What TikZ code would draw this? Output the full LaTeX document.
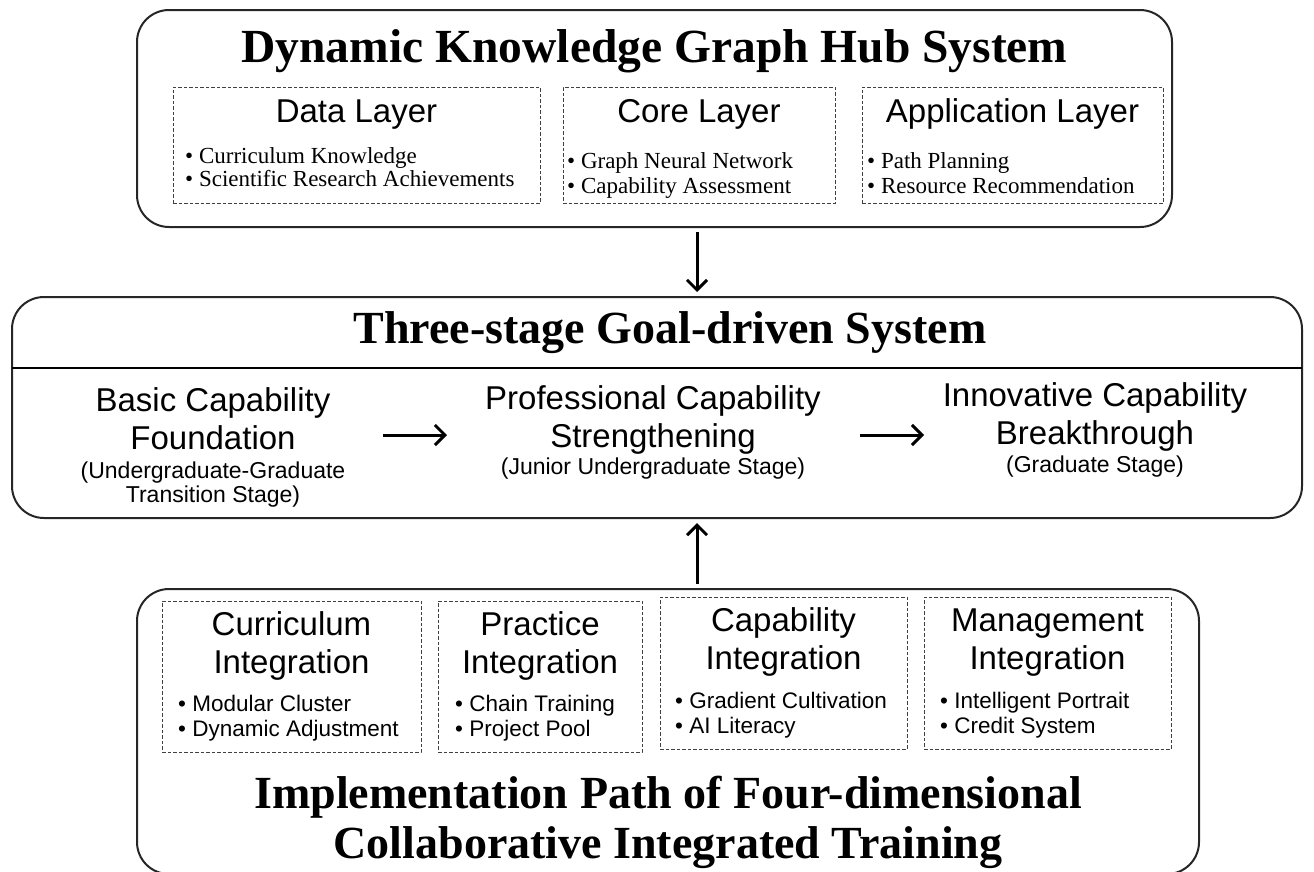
\documentclass[tikz,border=0pt]{standalone}
\usepackage{fontspec}
\setmainfont{Liberation Serif}
\setsansfont{Liberation Sans}
\usetikzlibrary{arrows.meta}

\tikzset{
    outerbox/.style={draw=black!85,rounded corners=32pt,line width=2pt,inner sep=0pt},
    layerbox/.style={draw=black!75,dash pattern=on 3.5pt off 2pt,line width=0.9pt,inner sep=0pt},
    hdr/.style={font=\bfseries\fontsize{46}{50}\selectfont,align=center,anchor=base,inner sep=0pt},
    lyr/.style={font=\sffamily\fontsize{33}{38}\selectfont,align=center,anchor=base,inner sep=0pt},
    stagesub/.style={font=\sffamily\fontsize{23}{24}\selectfont,align=center,anchor=base,inner sep=0pt},
    itm/.style={font=\fontsize{23}{24}\selectfont,align=left,anchor=base west,inner sep=0pt},
    sitm/.style={font=\sffamily\fontsize{22.5}{24.5}\selectfont,align=left,anchor=base west,inner sep=0pt},
    linkarrow/.style={-{Straight Barb[length=10pt,width=20pt]},line width=3pt}
}

\begin{document}
\begin{tikzpicture}[x=1pt,y=-1pt]
                    \useasboundingbox (0,0) rectangle (1314,871);
                    \node[outerbox,minimum width=1035pt,minimum height=217pt](hub) at (654.5,118.5){};
                    \node[hdr,font=\bfseries\fontsize{47.5}{50}\selectfont](hubtitle) at (654.5,62){Dynamic Knowledge Graph Hub System};
                    \node[layerbox,minimum width=367pt,minimum height=116pt](data) at (356.5,145){};
                    \node[layerbox,minimum width=272pt,minimum height=116pt](core) at (699,145){};
                    \node[layerbox,minimum width=301pt,minimum height=116pt](app) at (1012.5,145){};
                    \node[lyr](datatitle) at (356.5,122){Data Layer};
                    \node[lyr](coretitle) at (699,122){Core Layer};
                    \node[lyr](apptitle) at (1012.5,122){Application Layer};
                    \node[itm,font=\fontsize{23}{21}\selectfont](dataitems) at (185,186){• Curriculum Knowledge\\• Scientific Research Achievements};
                    \node[itm,font=\fontsize{23}{25}\selectfont](coreitems) at (567,193){• Graph Neural Network\\• Capability Assessment};
                    \node[itm,font=\fontsize{23}{25}\selectfont](appitems) at (867,193){• Path Planning\\• Resource Recommendation};

                    \node[outerbox,minimum width=1290pt,minimum height=221pt](goal) at (657,407.5){};
                    \coordinate (divl) at (12,368);
                    \coordinate (divr) at (1302,368);
                    \draw[line width=2.6pt](divl)--(divr);
                    \node[hdr](goaltitle) at (670,343){Three-stage Goal-driven System};
                    \node[lyr](basic) at (213,449){Basic Capability\\Foundation};
                    \node[stagesub](basicsub) at (213,502){(Undergraduate-Graduate\\Transition Stage)};
                    \node[lyr](prof) at (653,447){Professional Capability\\Strengthening};
                    \node[stagesub](profsub) at (653,474){(Junior Undergraduate Stage)};
                    \node[lyr](innov) at (1095,444){Innovative Capability\\Breakthrough};
                    \node[stagesub](innovsub) at (1095,472){(Graduate Stage)};
                    \coordinate (a1) at (383,435);
                    \coordinate (a2) at (447,435);
                    \coordinate (b1) at (860,435);
                    \coordinate (b2) at (924,435);
                    \draw[linkarrow](a1)--(a2);
                    \draw[linkarrow](b1)--(b2);

                    \node[outerbox,minimum width=1062pt,minimum height=285pt](path) at (668,731.5){};
                    \node[layerbox,minimum width=259pt,minimum height=151pt](curr) at (291.5,676.5){};
                    \node[layerbox,minimum width=204pt,minimum height=151pt](prac) at (540,676.5){};
                    \node[layerbox,minimum width=247pt,minimum height=152pt](capa) at (783.5,673){};
                    \node[layerbox,minimum width=247pt,minimum height=152pt](mana) at (1047.5,673){};
                    \node[lyr](currtitle) at (291.5,673){Curriculum\\Integration};
                    \node[lyr](practitle) at (540,673){Practice\\Integration};
                    \node[lyr](capatitle) at (783.5,669){Capability\\Integration};
                    \node[lyr](manatitle) at (1047.5,669){Management\\Integration};
                    \node[sitm](curritems) at (178,736){• Modular Cluster\\• Dynamic Adjustment};
                    \node[sitm](pracitems) at (455,736){• Chain Training\\• Project Pool};
                    \node[sitm](capaitems) at (675,733){• Gradient Cultivation\\• AI Literacy};
                    \node[sitm](manaitems) at (940,733){• Intelligent Portrait\\• Credit System};
                    \node[hdr](pathtitle) at (668,858){Implementation Path of Four-dimensional\\Collaborative Integrated Training};

                    \coordinate (mid) at (697,0);
                    \draw[linkarrow,shorten <=4pt,shorten >=4pt](hub.south -| mid)--(goal.north -| mid);
                    \draw[linkarrow,shorten <=4pt,shorten >=4pt](path.north -| mid)--(goal.south -| mid);
                \end{tikzpicture}
\end{document}
